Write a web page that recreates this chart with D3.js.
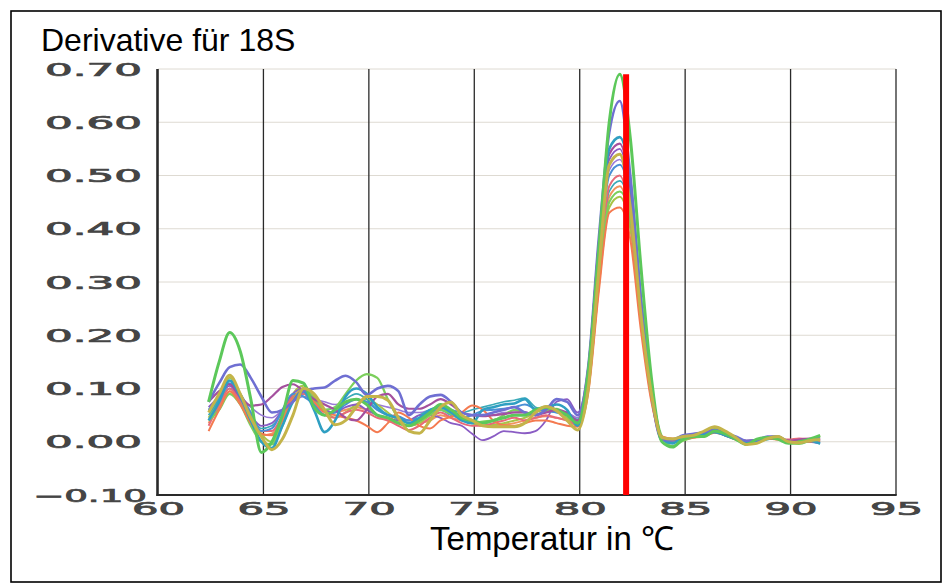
<!DOCTYPE html>
<html><head><meta charset="utf-8">
<script src="https://cdn.jsdelivr.net/npm/d3@7"></script>
<style>html,body{margin:0;padding:0;background:#fff;} svg{display:block}</style>
</head><body>
<svg id="chart" width="943" height="584"></svg>
<script>
// ---------- DATA ----------
const chartTitle = "Derivative für 18S";
const xAxisTitle = "Temperatur in ℃";
const xTicks = [60, 65, 70, 75, 80, 85, 90, 95];
const yTicks = [-0.1, 0, 0.1, 0.2, 0.3, 0.4, 0.5, 0.6, 0.7];
const meltTemp = 82.2;      // red marker line
const meltTop = 0.69;

const temperatures = [
 62.4,62.9,63.4,63.9,64.4,64.9,65.4,65.9,66.4,66.9,
 67.4,67.9,68.4,68.9,69.4,69.9,70.4,70.9,71.4,71.9,
 72.4,72.9,73.4,73.9,74.4,74.9,75.4,75.9,76.4,76.9,
 77.4,77.9,78.4,78.9,79.4,79.9,80.4,80.9,81.4,81.9,
 82.4,82.9,83.4,83.9,84.4,84.9,85.4,85.9,86.4,86.9,
 87.4,87.9,88.4,88.9,89.4,89.9,90.4,90.9,91.4];

const violet2 = [0.06,0.08,0.1,0.085,0.065,0.05,0.045,0.06,0.075,0.085,
 0.08,0.075,0.07,0.075,0.08,0.075,0.07,0.065,0.06,0.055,
 0.055,0.06,0.065,0.06,0.055,0.05,0.05,0.05,0.055,0.055,
 0.055,0.052,0.055,0.058,0.055,0.045,0.13,0.35,0.51,0.53,
 0.45,0.25,0.09,0.006,0.002,0.01,0.014,0.016,0.02,0.014,
 0.008,0.002,0.002,0.006,0.006,0.002,0.0,0.002,0.004];
const salmon = [0.035,0.065,0.095,0.075,0.04,0.012,0.015,0.045,0.08,0.095,
 0.075,0.06,0.055,0.06,0.065,0.06,0.05,0.04,0.035,0.03,
 0.035,0.04,0.05,0.045,0.04,0.038,0.035,0.03,0.032,0.035,
 0.04,0.045,0.048,0.045,0.04,0.03,0.095,0.29,0.46,0.48,
 0.41,0.23,0.085,0.006,0.004,0.004,0.008,0.012,0.018,0.014,
 0.005,0.0,0.0,0.006,0.004,0.002,0.0,0.004,0.006];
const yellowGreen = [0.045,0.08,0.12,0.09,0.05,0.015,0.0,0.04,0.09,0.105,
 0.085,0.06,0.045,0.055,0.07,0.08,0.07,0.055,0.04,0.03,
 0.035,0.05,0.065,0.06,0.045,0.035,0.03,0.032,0.035,0.04,
 0.045,0.055,0.06,0.058,0.045,0.03,0.1,0.29,0.44,0.46,
 0.4,0.24,0.09,0.01,0.0,0.004,0.01,0.014,0.025,0.018,
 0.006,-0.004,-0.002,0.008,0.01,0.0,-0.002,0.004,0.012];
const teal2 = [0.05,0.08,0.1,0.08,0.05,0.025,0.03,0.055,0.085,0.09,
 0.075,0.06,0.065,0.08,0.09,0.08,0.06,0.05,0.045,0.04,
 0.05,0.06,0.065,0.06,0.055,0.06,0.065,0.07,0.075,0.078,
 0.082,0.065,0.06,0.055,0.05,0.042,0.12,0.32,0.47,0.49,
 0.43,0.25,0.09,0.006,0.0,0.008,0.01,0.014,0.018,0.012,
 0.004,-0.002,0.0,0.004,0.006,-0.002,-0.003,0.0,-0.004];
const purple2 = [0.065,0.085,0.105,0.08,0.05,0.03,0.035,0.06,0.09,0.1,
 0.08,0.06,0.055,0.065,0.07,0.06,0.05,0.045,0.04,0.04,
 0.05,0.05,0.045,0.035,0.03,0.015,0.003,0.01,0.02,0.018,
 0.016,0.02,0.04,0.075,0.08,0.055,0.14,0.37,0.53,0.55,
 0.46,0.25,0.09,0.008,0.004,0.01,0.014,0.016,0.022,0.016,
 0.008,0.0,0.0,0.006,0.008,0.002,0.004,0.0,-0.002];
const pink = [0.03,0.07,0.1,0.075,0.045,0.02,0.02,0.05,0.085,0.09,
 0.07,0.05,0.045,0.055,0.06,0.055,0.045,0.04,0.03,0.022,
 0.03,0.045,0.055,0.045,0.035,0.03,0.03,0.035,0.04,0.045,
 0.04,0.045,0.05,0.045,0.04,0.032,0.1,0.3,0.48,0.5,
 0.42,0.23,0.08,0.004,0.002,0.006,0.01,0.012,0.02,0.015,
 0.006,0.002,0.004,0.006,0.005,0.004,0.006,0.005,0.003];
const blue = [0.06,0.085,0.11,0.09,0.055,0.02,0.025,0.06,0.09,0.085,
 0.07,0.05,0.055,0.07,0.08,0.075,0.06,0.05,0.048,0.04,
 0.045,0.055,0.06,0.05,0.045,0.05,0.058,0.06,0.062,0.065,
 0.07,0.062,0.058,0.055,0.05,0.038,0.12,0.34,0.5,0.52,
 0.45,0.26,0.095,0.006,0.002,0.008,0.012,0.014,0.02,0.012,
 0.006,0.0,0.002,0.008,0.006,0.001,0.0,0.004,0.0];
const green2 = [0.04,0.06,0.09,0.07,0.03,0.0,-0.005,0.03,0.08,0.1,
 0.08,0.06,0.065,0.09,0.115,0.127,0.12,0.08,0.045,0.035,
 0.04,0.05,0.06,0.052,0.042,0.035,0.038,0.04,0.05,0.06,
 0.055,0.05,0.058,0.062,0.05,0.035,0.11,0.3,0.45,0.47,
 0.42,0.26,0.1,0.01,-0.008,0.002,0.008,0.012,0.018,0.012,
 0.004,-0.004,-0.002,0.008,0.01,-0.002,-0.004,0.002,0.01];
const orange = [0.02,0.06,0.095,0.07,0.035,0.015,0.012,0.04,0.08,0.098,
 0.075,0.055,0.05,0.045,0.04,0.03,0.018,0.035,0.055,0.045,
 0.03,0.025,0.04,0.047,0.055,0.068,0.06,0.04,0.031,0.03,
 0.035,0.04,0.04,0.035,0.03,0.028,0.09,0.28,0.43,0.44,
 0.38,0.21,0.075,0.01,0.006,0.006,0.008,0.01,0.017,0.012,
 0.004,0.0,0.002,0.006,0.004,0.0,0.003,0.0,0.002];
const magenta = [0.075,0.095,0.108,0.085,0.068,0.07,0.085,0.103,0.108,0.095,
 0.08,0.07,0.06,0.045,0.04,0.06,0.085,0.09,0.07,0.062,
 0.062,0.07,0.08,0.07,0.055,0.05,0.048,0.05,0.052,0.055,
 0.055,0.05,0.055,0.06,0.055,0.04,0.13,0.37,0.54,0.56,
 0.47,0.25,0.09,0.004,0.003,0.01,0.012,0.016,0.02,0.012,
 0.006,0.001,0.003,0.007,0.006,0.002,0.004,0.006,0.005];
const teal = [0.04,0.075,0.115,0.085,0.04,0.0,-0.012,0.03,0.075,0.095,
 0.06,0.018,0.04,0.085,0.1,0.09,0.065,0.05,0.045,0.035,
 0.045,0.06,0.065,0.055,0.04,0.035,0.06,0.065,0.07,0.072,
 0.08,0.06,0.065,0.07,0.06,0.03,0.12,0.35,0.55,0.572,
 0.49,0.27,0.1,0.005,-0.003,0.008,0.012,0.015,0.018,0.012,
 0.005,0.0,0.002,0.007,0.008,0.0,-0.002,0.002,-0.003];
const violet = [0.075,0.11,0.14,0.145,0.12,0.085,0.055,0.06,0.075,0.095,
 0.1,0.102,0.115,0.124,0.112,0.088,0.1,0.105,0.095,0.05,
 0.07,0.085,0.088,0.075,0.055,0.05,0.05,0.055,0.06,0.065,
 0.055,0.05,0.06,0.08,0.075,0.05,0.14,0.38,0.58,0.64,
 0.5,0.27,0.09,0.003,0.004,0.012,0.015,0.018,0.022,0.015,
 0.01,0.002,0.003,0.01,0.01,0.0,-0.002,0.004,0.006];
const green1 = [0.075,0.15,0.205,0.17,0.08,-0.02,0.0,0.05,0.115,0.11,
 0.065,0.05,0.06,0.075,0.08,0.07,0.05,0.045,0.035,0.03,
 0.04,0.055,0.07,0.06,0.045,0.04,0.035,0.04,0.045,0.05,
 0.05,0.06,0.065,0.06,0.05,0.035,0.13,0.36,0.6,0.69,
 0.57,0.33,0.12,0.0,-0.01,0.005,0.01,0.01,0.02,0.015,
 0.005,-0.005,0.005,0.008,0.005,-0.003,0.0,0.005,0.012];
const olive = [0.055,0.09,0.125,0.09,0.045,0.01,-0.015,0.005,0.05,0.1,
 0.09,0.06,0.032,0.04,0.065,0.085,0.085,0.078,0.045,0.02,
 0.016,0.04,0.065,0.074,0.05,0.04,0.03,0.028,0.028,0.028,
 0.035,0.055,0.066,0.058,0.04,0.022,0.1,0.32,0.52,0.54,
 0.44,0.24,0.09,0.008,0.005,0.01,0.012,0.02,0.028,0.02,
 0.008,-0.005,-0.003,0.006,0.01,0.0,-0.002,0.002,0.004];

const seriesList = [violet2, salmon, yellowGreen, teal2, purple2, pink, blue, green2, orange, magenta, teal, violet, green1, olive];
// ---------- STYLE ----------
const seriesColors = ["#9a7ad8","#f0955e","#a8c448","#3aaab8","#8a5cc4","#e86a78","#4a8fd6","#7ccf5c","#f47a50","#a4509e","#2f9fc2","#6f6fd2","#5cc85a","#c4b44a"];
const seriesWidths = [1.6,2,2,1.6,1.8,2,2,2.2,2,2.2,2.6,2.6,3,3];

const W = 943, H = 584;
const svg = d3.select("#chart");
svg.append("rect").attr("width", W).attr("height", H).attr("fill", "#fff");
svg.append("rect").attr("x", 11).attr("y", 11).attr("width", 930).attr("height", 571)
  .attr("fill", "none").attr("stroke", "#000").attr("stroke-width", 1.6);

const x = d3.scaleLinear().domain([60, 95]).range([158, 896]);
const y = d3.scaleLinear().domain([-0.1, 0.7]).range([495, 69]);

// horizontal grid
svg.append("g").selectAll("line").data(yTicks.filter(d => d > -0.1)).join("line")
  .attr("x1", x(60)).attr("x2", x(95)).attr("y1", d => y(d)).attr("y2", d => y(d))
  .attr("stroke", "#dedad2").attr("stroke-width", 1);
// vertical grid
svg.append("g").selectAll("line").data(xTicks.filter(d => d > 60)).join("line")
  .attr("x1", d => x(d)).attr("x2", d => x(d)).attr("y1", y(0.7)).attr("y2", y(-0.1))
  .attr("stroke", "#2a2a2a").attr("stroke-width", 1.3);

// curves
const line = d3.line().x((d, i) => x(temperatures[i])).y(d => y(d)).curve(d3.curveMonotoneX);
svg.append("g").selectAll("path").data(seriesList).join("path")
  .attr("d", d => line(d)).attr("fill", "none")
  .attr("stroke", (d, i) => seriesColors[i]).attr("stroke-width", (d, i) => seriesWidths[i])
  .attr("stroke-linejoin", "round");

// axes lines
svg.append("line").attr("x1", x(60) - 0.5).attr("x2", x(60) - 0.5).attr("y1", y(0.7)).attr("y2", y(-0.1) + 1)
  .attr("stroke", "#2a2a2a").attr("stroke-width", 2.6);
svg.append("line").attr("x1", x(60) - 1.5).attr("x2", x(95) + 0.7).attr("y1", y(-0.1)).attr("y2", y(-0.1))
  .attr("stroke", "#2a2a2a").attr("stroke-width", 2.2);

// y axis labels
const fmt = d3.format(".2f");
const gy = svg.append("g").attr("transform", `translate(${x(60)},0)`)
  .call(d3.axisLeft(y).tickValues(yTicks).tickFormat(fmt).tickSize(0).tickPadding(15));
gy.select(".domain").remove();
gy.selectAll("text")
  .attr("font-family", "DejaVu Sans").attr("font-size", 17).attr("fill", "#454545")
  .attr("stroke", "#454545").attr("stroke-width", 0.7)
  .attr("dy", "0.36em")
  .attr("textLength", d => d < 0 ? 114 : 97).attr("lengthAdjust", "spacingAndGlyphs")
  .attr("x", d => d < 0 ? -11 : -16);

// x axis labels
const gx = svg.append("g").attr("transform", `translate(0,${y(-0.1)})`)
  .call(d3.axisBottom(x).tickValues(xTicks).tickFormat(d3.format("d")).tickSize(0));
gx.select(".domain").remove();
gx.selectAll("text")
  .attr("font-family", "DejaVu Sans").attr("font-size", 17).attr("fill", "#454545")
  .attr("stroke", "#454545").attr("stroke-width", 0.7)
  .attr("dy", null).attr("y", 20)
  .attr("textLength", 53).attr("lengthAdjust", "spacingAndGlyphs");

// red melting line
svg.append("line").attr("x1", x(meltTemp)).attr("x2", x(meltTemp))
  .attr("y1", y(meltTop)).attr("y2", y(-0.1))
  .attr("stroke", "#ff0000").attr("stroke-width", 6);

// titles
svg.append("text").attr("x", 41).attr("y", 51).text(chartTitle)
  .attr("font-family", "Liberation Sans, Arial, sans-serif").attr("font-size", 32).attr("fill", "#000");
svg.append("text").attr("x", 552).attr("y", 550).attr("text-anchor", "middle").text(xAxisTitle)
  .attr("font-family", "Liberation Sans, Arial, sans-serif").attr("font-size", 33).attr("fill", "#000");
</script>
</body></html>
